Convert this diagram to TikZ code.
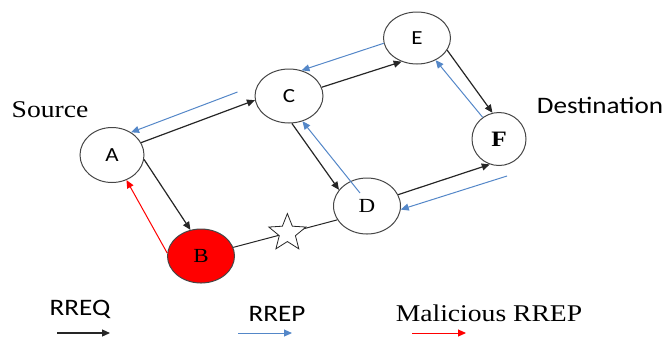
\documentclass[tikz,border=0pt]{standalone}
\usepackage{fontspec}
\setmainfont[FakeStretch=1.15]{Liberation Serif}
\newfontfamily\calfont[FakeStretch=1.15]{Carlito}
\usetikzlibrary{arrows.meta,shapes.geometric}
\definecolor{rrepblue}{RGB}{84,135,200}
\definecolor{hopgray}{RGB}{70,70,70}

\begin{document}
\begin{tikzpicture}[x=0.5pt, y=-0.5pt, hop/.style={draw=hopgray, line width=0.5pt, ellipse, inner sep=0pt, minimum width=33.5pt, minimum height=27pt}, req/.style={-{Triangle[length=4pt,width=3.5pt]}, line width=0.6pt, black!85}, rep/.style={-{Triangle[length=4pt,width=3.5pt]}, line width=0.5pt, rrepblue}, mal/.style={-{Triangle[length=4pt,width=3.5pt]}, line width=0.5pt, red}, starmark/.style={star, star points=5, star point ratio=2.3, draw, fill=white, minimum size=19.5pt, inner sep=0pt, line width=0.4pt}]
    \useasboundingbox (0,0) rectangle (668,339);
    % hops of the route
    \node[hop, minimum width=32pt, minimum height=27.5pt] (a) at (112,155) {\calfont\fontsize{10}{12}\selectfont A};
    \node[hop, fill=red] (b) at (201,256) {\fontsize{10}{12}\selectfont B};
    \node[hop, minimum width=34pt] (c) at (289,96) {\calfont\fontsize{10}{12}\selectfont C};
    \node[hop, minimum height=28pt] (d) at (367,206) {\fontsize{10}{12}\selectfont D};
    \node[hop, minimum height=26pt] (e) at (417,38) {\calfont\fontsize{10}{12}\selectfont E};
    \node[hop, minimum width=27pt, minimum height=26.5pt] (f) at (499,139) {\fontsize{11}{13}\selectfont\bfseries F};
    \node (src) at (50,110) {\fontsize{12}{14}\selectfont Source};
    \node (dst) at (600,105) {\calfont\fontsize{11.8}{14}\selectfont Destination};
    % route request and replies
    \draw[req] (a.23) -- (c.187);
    \draw[rep] ([shift={(-17,-4)}]c.west) -- (a.50);
    \draw[req] (c.15) -- (e.237);
    \draw[rep] (e.189) -- (c.64);
    \draw[req] (e.-22) -- (f.104);
    \draw[rep] (f.127) -- (e.-50);
    \draw[req] (c.-84) -- (d.150);
    \draw[rep] ([shift={(-7,-13)}]d.center) -- (c.-62);
    \draw[req] (d.20) -- (f.250);
    \draw[rep] ([shift={(8,10)}]f.south) -- (d.-6);
    \draw[req] (a.-8) -- (b.112);
    \draw[mal] (b.175) -- (a.-60);
    \draw[black!85, line width=0.5pt] (b.15) -- node[starmark, pos=0.52] (hole) {} (d.205);
    % legend
    \node (lreq) at (80,309) {\calfont\fontsize{11.8}{14}\selectfont RREQ};
    \node (lrep) at (277,314) {\calfont\fontsize{11.8}{14}\selectfont RREP};
    \node (lmal) at (489,313) {\fontsize{12}{14}\selectfont Malicious RREP};
    \coordinate (req1) at (57,333);
    \coordinate (req2) at (110,333);
    \coordinate (rep1) at (238,333);
    \coordinate (rep2) at (292,333);
    \coordinate (mal1) at (412,333);
    \coordinate (mal2) at (466,333);
    \draw[req] (req1) -- (req2);
    \draw[rep] (rep1) -- (rep2);
    \draw[mal] (mal1) -- (mal2);
\end{tikzpicture}
\end{document}
